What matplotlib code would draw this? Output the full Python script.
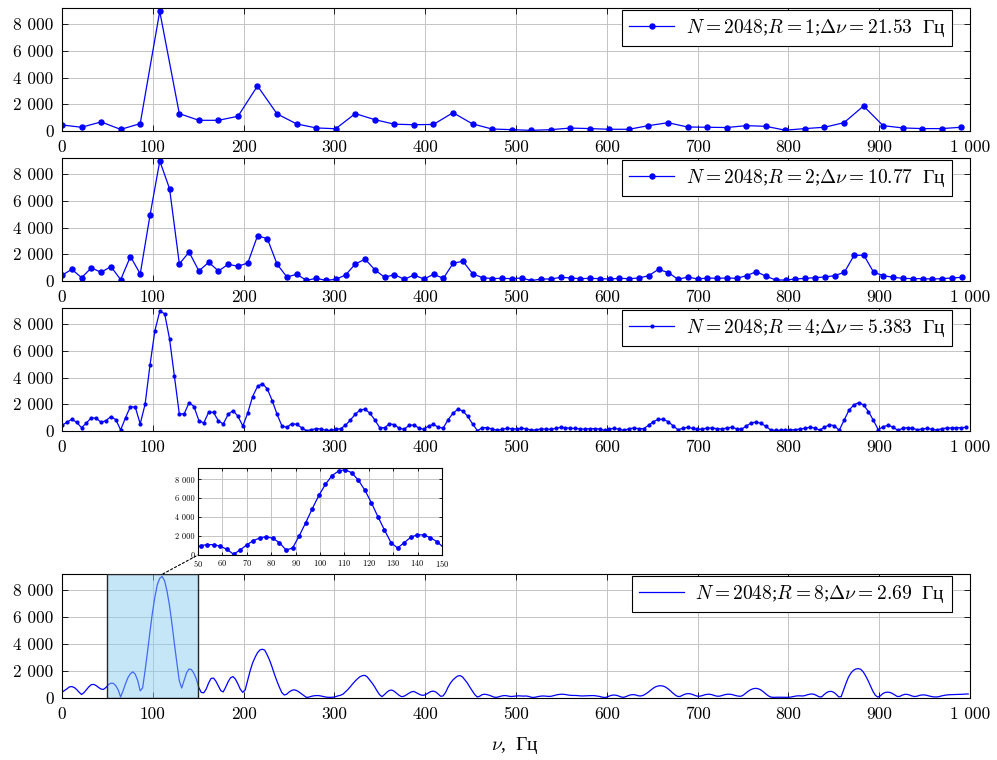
import numpy as np
import matplotlib
matplotlib.use("Agg")
import matplotlib.pyplot as plt
from matplotlib.patches import Rectangle, ConnectionPatch

plt.rcParams['font.family'] = ['cmr10', 'DejaVu Serif']
plt.rcParams['mathtext.fontset'] = 'cm'
plt.rcParams['axes.formatter.use_mathtext'] = True

# spectrum |X(nu)| for N = 2048, zero-padding factor R
N = 2048
R_vals = [1, 2, 4, 8]
delta_nu = [21.53, 10.77, 5.383, 2.69]   # frequency step, Hz

amp_r1 = [450, 280, 680, 120, 550, 8950, 1300, 800, 800, 1100,
          3370, 1280, 530, 230, 170, 1300, 850, 510, 470, 490,
          1370, 530, 150, 100, 50, 100, 220, 180, 130, 130,
          400, 620, 300, 280, 260, 400, 350, 60, 180, 280,
          620, 1870, 400, 230, 180, 180, 280]

amp_r2 = [425, 880, 250, 980, 650, 1080, 100, 1830, 530, 4920,
          8980, 6900, 1280, 2160, 750, 1400, 750, 1250, 1100, 1350,
          3390, 3160, 1250, 300, 500, 50, 200, 50, 125, 450,
          1280, 1630, 830, 275, 480, 125, 450, 150, 500, 200,
          1330, 1480, 530, 250, 180, 200, 175, 225, 30, 150,
          150, 275, 225, 175, 200, 175, 150, 200, 175, 225,
          400, 875, 625, 125, 300, 150, 225, 200, 225, 200,
          400, 700, 350, 75, 75, 150, 200, 250, 300, 400,
          650, 1925, 1925, 650, 400, 275, 200, 175, 175, 150,
          175, 225, 275]

amp_r4 = [425, 650, 880, 650, 250, 600, 1000, 950, 650, 780,
          1080, 850, 80, 1000, 1830, 1780, 530, 2000, 4920, 7500,
          8950, 8780, 6900, 4100, 1280, 1280, 2130, 1830, 780, 600,
          1400, 1400, 750, 530, 1250, 1530, 1100, 375, 1350, 2580,
          3330, 3550, 3150, 2280, 1250, 375, 275, 550, 500, 250,
          25, 100, 175, 150, 50, 50, 125, 175, 425, 825,
          1250, 1580, 1630, 1330, 830, 250, 250, 530, 480, 200,
          125, 425, 450, 225, 125, 375, 500, 275, 225, 850,
          1330, 1630, 1500, 1100, 530, 25, 250, 250, 150, 50,
          125, 200, 175, 150, 200, 175, 50, 100, 150, 150,
          125, 200, 275, 250, 200, 200, 150, 150, 175, 175,
          150, 50, 150, 200, 125, 50, 175, 225, 175, 175,
          425, 700, 875, 875, 700, 400, 100, 200, 275, 200,
          125, 150, 225, 225, 175, 150, 225, 275, 175, 125,
          375, 600, 675, 575, 350, 75, 50, 50, 75, 75,
          100, 150, 200, 275, 225, 75, 275, 475, 400, 50,
          800, 1550, 1950, 2125, 1950, 1450, 800, 100, 325, 425,
          300, 50, 200, 250, 200, 100, 150, 200, 125, 75,
          175, 225, 225, 250, 250, 275]

amp_r8 = [425, 550, 680, 820, 850, 780, 630, 430, 260, 400,
          620, 830, 990, 1010, 920, 780, 660, 640, 780, 990,
          1100, 1090, 920, 600, 80, 530, 1060, 1515, 1800, 1940,
          1760, 1300, 530, 740, 2010, 3420, 4900, 6300, 7470, 8390,
          8880, 9020, 8700, 7930, 6870, 5530, 4050, 2640, 1300, 740,
          1300, 1870, 2150, 2110, 1830, 1410, 780, 420, 380, 650,
          1100, 1450, 1480, 1250, 900, 550, 450, 800, 1200, 1500,
          1590, 1400, 1050, 650, 420, 600, 1300, 2000, 2580, 3000,
          3350, 3560, 3620, 3550, 3200, 2800, 2300, 1750, 1250, 800,
          400, 220, 280, 450, 560, 610, 560, 450, 320, 180,
          50, 60, 120, 160, 180, 180, 150, 110, 70, 50,
          50, 60, 100, 160, 200, 280, 450, 620, 825, 1050,
          1250, 1430, 1580, 1660, 1680, 1560, 1330, 1100, 830, 520,
          250, 100, 250, 430, 560, 590, 500, 350, 200, 100,
          130, 230, 350, 450, 490, 400, 300, 220, 200, 260,
          380, 480, 510, 450, 300, 130, 150, 400, 780, 1100,
          1330, 1500, 1630, 1660, 1560, 1330, 1100, 800, 530, 250,
          75, 130, 250, 280, 250, 200, 130, 60, 50, 100,
          150, 180, 170, 130, 110, 130, 150, 160, 150, 140,
          150, 120, 60, 40, 70, 110, 140, 150, 140, 120,
          120, 160, 210, 250, 275, 280, 260, 230, 200, 190,
          190, 180, 160, 150, 155, 165, 175, 180, 175, 150,
          120, 70, 40, 60, 140, 200, 220, 200, 140, 70,
          50, 110, 190, 240, 250, 220, 160, 150, 200, 300,
          430, 580, 720, 830, 890, 910, 890, 820, 700, 550,
          380, 230, 120, 110, 200, 280, 320, 320, 270, 200,
          140, 130, 170, 230, 270, 280, 250, 190, 140, 130,
          170, 230, 270, 280, 270, 220, 170, 135, 130, 220,
          370, 510, 620, 690, 715, 690, 610, 480, 330, 180,
          80, 50, 50, 60, 60, 55, 50, 50, 60, 90,
          130, 160, 160, 150, 170, 230, 280, 300, 270, 180,
          90, 80, 250, 400, 480, 490, 420, 270, 80, 100,
          600, 1100, 1550, 1850, 2050, 2150, 2180, 2130, 1950, 1650,
          1300, 900, 500, 200, 70, 150, 320, 410, 435, 410,
          330, 220, 110, 120, 210, 270, 270, 220, 150, 110,
          130, 190, 225, 230, 200, 150, 110, 80, 75, 100,
          150, 190, 220, 240, 250, 255, 260, 265, 270, 280,
          295, 300]

amps = [amp_r1, amp_r2, amp_r4, amp_r8]

xticks = list(range(0, 1001, 100))
xticklabels = ['0', '100', '200', '300', '400', '500', '600', '700', '800', '900', '1 000']
yticks = [0, 2000, 4000, 6000, 8000]
yticklabels = ['0', '2 000', '4 000', '6 000', '8 000']
inset_xticks = list(range(50, 151, 10))
zoom_range = (50, 150)
ymax = 9200

BLUE = (0, 0, 1)
# plain (non-math) text parts need cyrillic glyphs
TEXT_FONT = 'Liberation Serif'


def style(ax, fs, length=4, pad=6):
    ax.set_axisbelow(True)
    ax.grid(True, color='#c4c4c4', lw=0.7)
    ax.tick_params(direction='in', top=True, right=True, length=length,
                   width=0.6, labelsize=fs, pad=pad)
    for s in ax.spines.values():
        s.set_linewidth(0.8)
        s.set_color('black')


fig = plt.figure(figsize=(9.97, 7.6), dpi=100)

W, H = 997.0, 760.0
left, right = 62, 970
tops = [8, 158, 308, 574]
bots = [131, 281, 431, 698]
markers = [3.6, 3.6, 2.0, 0]

axes = []
for i in range(4):
    ax = fig.add_axes([left / W, 1 - bots[i] / H, (right - left) / W, (bots[i] - tops[i]) / H])
    y = np.array(amps[i])
    x = np.arange(len(y)) * delta_nu[i]
    lab = r'$N=%d$;$R=%d$;$\Delta\nu=%s\ $ Гц' % (N, R_vals[i], delta_nu[i])
    if markers[i] > 0:
        ax.plot(x, y, '-', color=BLUE, lw=0.9, marker='o', ms=markers[i], label=lab)
    else:
        ax.plot(x, y, '-', color=BLUE, lw=0.9, label=lab)
    ax.set_xlim(0, 1000)
    ax.set_ylim(0, ymax)
    ax.set_xticks(xticks)
    ax.set_xticklabels(xticklabels)
    ax.set_yticks(yticks)
    ax.set_yticklabels(yticklabels)
    style(ax, 12.5)
    leg = ax.legend(loc='upper right', bbox_to_anchor=(0.98, 0.98), borderaxespad=0,
                    fancybox=False, edgecolor='black', framealpha=1,
                    prop={'family': TEXT_FONT, 'size': 14},
                    handlelength=2.3, handletextpad=0.6, numpoints=1, borderpad=0.35)
    leg.get_frame().set_linewidth(0.8)
    axes.append(ax)

ax4 = axes[3]
ax4.add_patch(Rectangle((zoom_range[0], 0), zoom_range[1] - zoom_range[0], ymax,
                        facecolor=(0.54, 0.81, 0.94, 0.5), edgecolor='0.15', lw=1.0, zorder=3))

# zoomed inset
axin = fig.add_axes([198 / W, 1 - 555 / H, 244 / W, 87 / H])
y8 = np.array(amp_r8)
x8 = np.arange(len(y8)) * delta_nu[3]
axin.plot(x8, y8, '-', color=BLUE, lw=0.9, marker='o', ms=2.4)
axin.set_xlim(*zoom_range)
axin.set_ylim(0, ymax)
axin.set_xticks(inset_xticks)
axin.set_yticks(yticks)
axin.set_yticklabels(yticklabels)
style(axin, 6, length=2, pad=2.5)

con = ConnectionPatch(xyA=(111, ymax), coordsA=ax4.transData,
                      xyB=(zoom_range[0], 0), coordsB=axin.transData,
                      linestyle=(0, (2, 2)), color='black', lw=0.8)
fig.add_artist(con)

fig.text(515 / W, 1 - 746 / H, r'$\nu$,  Гц', ha='center', va='center', fontsize=14,
         family=TEXT_FONT)

fig.savefig('out.png', dpi=100)
